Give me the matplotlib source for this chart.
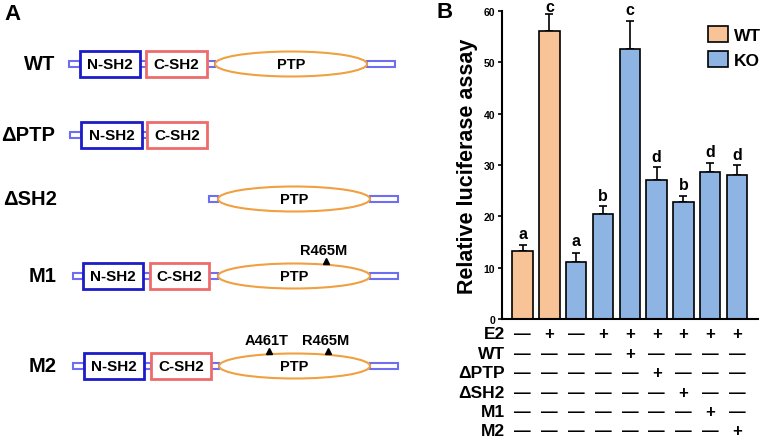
import matplotlib.pyplot as plt
from matplotlib.patches import Rectangle, Ellipse, Patch

plt.rcParams['font.family'] = ['Liberation Sans', 'DejaVu Sans']

# ------------------------------- Panel A data ------------------------------- #
# construct name, row centre (px), domains as (kind, x0, x1) in px
constructs = ['WT', '\u0394PTP', '\u0394SH2', 'M1', 'M2']
row_y = [65, 136, 200, 277, 367]
label_right = [55, 55, 57, 57, 57]
domains = [
    [('lk', 69, 80), ('N', 80, 140), ('lk', 140, 146), ('C', 146, 207),
     ('lk', 207, 215), ('PTP', 215, 367), ('ct', 367, 395)],
    [('lk', 70, 81), ('N', 81, 142), ('lk', 142, 147), ('C', 147, 207)],
    [('lk', 209, 218), ('PTP', 218, 370), ('ct', 370, 398)],
    [('lk', 73, 83), ('N', 83, 143), ('lk', 143, 150), ('C', 150, 209),
     ('lk', 209, 218), ('PTP', 218, 370), ('ct', 370, 398)],
    [('lk', 73, 84), ('N', 84, 144), ('lk', 144, 151), ('C', 151, 211),
     ('lk', 211, 219), ('PTP', 219, 370), ('ct', 370, 398)],
]
# mutations: (row index, x px, label)
mutations = [(3, 326, 'R465M'), (4, 269, 'A461T'), (4, 328, 'R465M')]

# ------------------------------- Panel B data ------------------------------- #
means = [13.3, 56.1, 11.1, 20.5, 52.6, 27.1, 22.8, 28.7, 28.1]
errs = [1.1, 3.3, 1.8, 1.5, 5.4, 2.5, 1.2, 1.7, 1.9]
groups = ['WT', 'WT', 'KO', 'KO', 'KO', 'KO', 'KO', 'KO', 'KO']
letters = ['a', 'c', 'a', 'b', 'c', 'd', 'b', 'd', 'd']
row_names = ['E2', 'WT', '\u0394PTP', '\u0394SH2', 'M1', 'M2']
treat = [
    [0, 1, 0, 1, 1, 1, 1, 1, 1],
    [0, 0, 0, 0, 1, 0, 0, 0, 0],
    [0, 0, 0, 0, 0, 1, 0, 0, 0],
    [0, 0, 0, 0, 0, 0, 1, 0, 0],
    [0, 0, 0, 0, 0, 0, 0, 1, 0],
    [0, 0, 0, 0, 0, 0, 0, 0, 1],
]
colors = {'WT': '#F8C396', 'KO': '#8DB4E2'}
# letter gap above error bar (px), tighter near the top of the axis
letter_gap = [12, 8, 12, 11, 12, 11, 11, 11, 11]

W, H = 762, 439
fig = plt.figure(figsize=(W / 100, H / 100), dpi=100)

# ------------------------------- Panel A ------------------------------- #
axA = fig.add_axes([0, 0, 1, 1])
axA.set_xlim(0, W)
axA.set_ylim(H, 0)
axA.axis('off')

axA.text(4, 15, 'A', fontsize=16, fontweight='bold', ha='left', va='center')
for name, y, lr, doms in zip(constructs, row_y, label_right, domains):
    axA.text(lr, y, name, fontsize=14.5, fontweight='bold', ha='right', va='center')
    for kind, x0, x1 in doms:
        if kind in ('lk', 'ct'):
            axA.add_patch(Rectangle((x0, y - 3), x1 - x0, 6, fc='white',
                                    ec='#6E6EF0', lw=1.5, zorder=2))
        elif kind == 'N':
            axA.add_patch(Rectangle((x0, y - 13), x1 - x0, 26, fc='white',
                                    ec='#1C1CC8', lw=2, zorder=3))
            axA.text((x0 + x1) / 2, y, 'N-SH2', fontsize=11, fontweight='bold',
                     ha='center', va='center', zorder=4)
        elif kind == 'C':
            axA.add_patch(Rectangle((x0, y - 13), x1 - x0, 26, fc='white',
                                    ec='#EE6B6B', lw=2, zorder=3))
            axA.text((x0 + x1) / 2, y, 'C-SH2', fontsize=11, fontweight='bold',
                     ha='center', va='center', zorder=4)
        else:
            axA.add_patch(Ellipse(((x0 + x1) / 2, y), x1 - x0, 25, fc='white',
                                  ec='#F0A040', lw=1.5, zorder=3))
            axA.text((x0 + x1) / 2, y, 'PTP', fontsize=10.5, fontweight='bold',
                     ha='center', va='center', zorder=4)

for ri, x, lab in mutations:
    y = row_y[ri]
    axA.plot(x, y - 15, marker='^', color='black', ms=5, zorder=5)
    axA.text(x - 2, y - 26, lab, fontsize=10.5, fontweight='bold',
             ha='center', va='center')

# ------------------------------- Panel B ------------------------------- #
axB = fig.add_axes([502 / W, (H - 320) / H, 256 / W, 308 / H])
xs = list(range(len(means)))
axB.bar(xs, means, width=0.76, color=[colors[g] for g in groups],
        edgecolor='black', linewidth=1.2, zorder=2)
axB.errorbar(xs, means, yerr=[[0] * len(errs), errs], fmt='none',
             ecolor='black', elinewidth=1.2, capsize=3, capthick=1.2, zorder=1)
for x, m, e, l, g in zip(xs, means, errs, letters, letter_gap):
    axB.annotate(l, (x, m + e), xytext=(0, g * 0.72), textcoords='offset points',
                 ha='center', va='center', fontsize=11.5, fontweight='bold',
                 annotation_clip=False)

axB.set_xlim(-0.77, 8.78)
axB.set_ylim(0, 60)
axB.set_yticks(range(0, 61, 10))
axB.set_xticks([])
axB.tick_params(axis='y', length=3, width=1.2, labelsize=7.5, pad=2)
for t in axB.get_yticklabels():
    t.set_fontweight('bold')
axB.spines['top'].set_visible(False)
axB.spines['right'].set_visible(False)
axB.spines['left'].set_linewidth(1.5)
axB.spines['bottom'].set_linewidth(1.5)
axB.set_ylabel('Relative luciferase assay', fontsize=15.5, fontweight='bold',
               labelpad=4)

axB.text(-0.255, 1.0, 'B', transform=axB.transAxes, fontsize=16,
         fontweight='bold', ha='left', va='center')

handles = [Patch(fc=colors['WT'], ec='black', lw=1.2, label='WT'),
           Patch(fc=colors['KO'], ec='black', lw=1.2, label='KO')]
axB.legend(handles=handles, loc='upper right', bbox_to_anchor=(1.06, 0.99),
           frameon=False, prop={'size': 12.5, 'weight': 'bold'},
           handlelength=1.15, handleheight=1.05, handletextpad=0.35,
           labelspacing=0.45, borderaxespad=0.3)

# +/- table under the bars
tr = axB.get_xaxis_transform()
for ri, (rname, vals) in enumerate(zip(row_names, treat)):
    yy = -(335 - 320 + ri * 19.4) / 308
    axB.text(0.012, yy, rname, transform=axB.transAxes, ha='right',
             va='center', fontsize=12.5, fontweight='bold', clip_on=False)
    for x, v in zip(xs, vals):
        axB.text(x, yy, '+' if v else '\u2014', transform=tr, ha='center',
                 va='center', fontsize=12, fontweight='bold', clip_on=False)

fig.savefig('out.png', dpi=100)
